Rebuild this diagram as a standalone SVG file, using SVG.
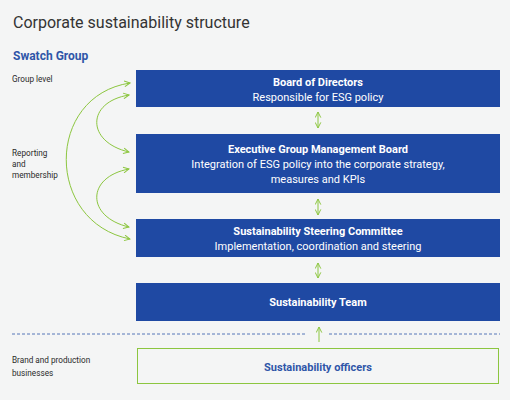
<svg xmlns="http://www.w3.org/2000/svg" width="510" height="400" viewBox="0 0 510 400">
<style>
.bg{fill:#f4f5f5}
.box{fill:#1f49a3}
.t{font-family:Roboto,"Liberation Sans",sans-serif;text-anchor:middle;fill:#ffffff}
.b{font-weight:bold;font-size:11px}
.s{font-size:11px}
.lbl{font-family:Roboto,"Liberation Sans",sans-serif;font-size:8.2px;fill:#2a2a2a}
.g{fill:none;stroke:#8cc63f;stroke-width:1}
.dash{stroke:#2f55a8;stroke-width:0.8;stroke-dasharray:3 2;fill:none}
</style>
<defs>
<marker id="ah" viewBox="0 0 10 10" refX="9" refY="5" markerWidth="7" markerHeight="7" orient="auto-start-reverse" markerUnits="userSpaceOnUse">
<path d="M1,1 L9,5 L1,9" fill="none" stroke="#8cc63f" stroke-width="1.4"/>
</marker>
</defs>
<rect class="bg" x="0" y="0" width="510" height="400"/>
<text x="13" y="28" font-family="Roboto,'Liberation Sans',sans-serif" font-size="16" fill="#333333">Corporate sustainability structure</text>
<text x="13" y="60" font-family="Roboto,'Liberation Sans',sans-serif" font-size="12" font-weight="bold" fill="#2f55a8">Swatch Group</text>
<text class="lbl" x="12" y="82">Group level</text>
<text class="lbl" x="12" y="156">Reporting</text>
<text class="lbl" x="12" y="167">and</text>
<text class="lbl" x="12" y="178">membership</text>
<text class="lbl" x="12" y="363">Brand and production</text>
<text class="lbl" x="12" y="376">businesses</text>
<g id="board">
<rect class="box" x="136" y="70" width="364" height="37"/>
<text class="t b" x="318" y="86">Board of Directors</text>
<text class="t s" x="318" y="101">Responsible for ESG policy</text>
</g>
<g id="exec">
<rect class="box" x="136" y="134" width="364" height="59"/>
<text class="t b" x="318" y="153">Executive Group Management Board</text>
<text class="t s" x="318" y="168">Integration of ESG policy into the corporate strategy,</text>
<text class="t s" x="318" y="183">measures and KPIs</text>
</g>
<g id="steering">
<rect class="box" x="136" y="219" width="364" height="38"/>
<text class="t b" x="318" y="235">Sustainability Steering Committee</text>
<text class="t s" x="318" y="250">Implementation, coordination and steering</text>
</g>
<g id="team">
<rect class="box" x="136" y="283" width="364" height="38"/>
<text class="t b" x="318" y="306">Sustainability Team</text>
</g>
<g id="officers">
<rect x="137.5" y="348.5" width="361" height="35" fill="none" stroke="#8cc63f" stroke-width="1"/>
<text x="318" y="371" font-family="Roboto,'Liberation Sans',sans-serif" font-size="11" font-weight="bold" fill="#2f55a8" text-anchor="middle">Sustainability officers</text>
</g>
<g id="connectors">
<path class="dash" d="M12,334 H306 M329,334 H500"/>
<path class="g" d="M318,112 V128" marker-start="url(#ah)" marker-end="url(#ah)"/>
<path class="g" d="M318,199 V215" marker-start="url(#ah)" marker-end="url(#ah)"/>
<path class="g" d="M318,263 V278" marker-start="url(#ah)" marker-end="url(#ah)"/>
<path class="g" d="M319,342 V327" marker-end="url(#ah)"/>
<path class="g" d="M130,239 C45,222 45,96 130,83" marker-start="url(#ah)" marker-end="url(#ah)"/>
<path class="g" d="M129,152 C86,142 86,102 129,95" marker-start="url(#ah)" marker-end="url(#ah)"/>
<path class="g" d="M129,227 C86,217 86,177 129,169" marker-start="url(#ah)" marker-end="url(#ah)"/>
</g>
</svg>
